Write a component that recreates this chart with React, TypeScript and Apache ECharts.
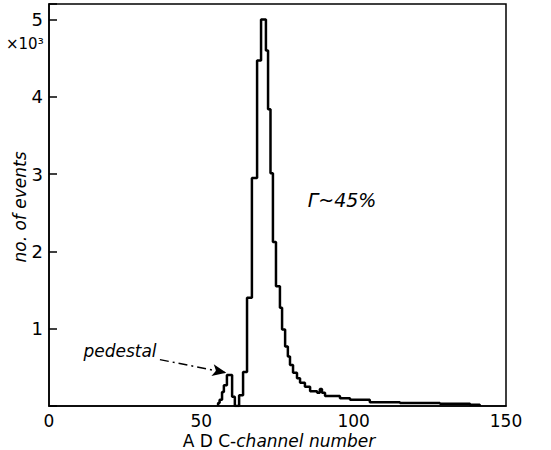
import React, { useEffect, useRef } from "react";
import * as echarts from "echarts";

// Histogram bin left edges (ADC channel) and bin contents (×10³ events)
const binEdges = [
  55.5, 56.0, 56.8, 57.4, 58.4, 60.1, 61.0, 62.4, 63.7, 65.0, 66.6, 68.3, 69.6,
  71.2, 71.9, 72.7, 73.5, 74.5, 75.8, 76.5, 77.5, 78.4, 79.1, 80.1, 81.4, 82.4,
  84.0, 85.7, 88.0, 88.9, 89.6, 90.6, 95.5, 98.8, 105.3, 115.2, 128.3, 138.2,
];
const binCounts = [
  0.04, 0.08, 0.18, 0.27, 0.4, 0.12, 0.0, 0.14, 0.44, 1.4, 2.95, 4.47, 5.0,
  4.6, 3.84, 3.01, 2.12, 1.55, 1.27, 0.99, 0.77, 0.64, 0.53, 0.43, 0.36, 0.3,
  0.25, 0.19, 0.17, 0.22, 0.17, 0.13, 0.1, 0.08, 0.05, 0.04, 0.03, 0.015,
];
const lastEdge = 141.4;

const xTicks = [0, 50, 100, 150];
const yTicks = [1, 2, 3, 4, 5];

// Arrow from "pedestal" label to the pedestal peak (channel, ×10³)
const arrowStart = [36.4, 0.6];
const arrowEnd = [58.2, 0.43];

export default function App() {
  const ref = useRef<HTMLDivElement>(null);
  useEffect(() => {
    document.body.style.margin = "0";
    if (!ref.current) return;
    const chart = echarts.init(ref.current, null, { renderer: "svg" });

    const data: number[][] = [[binEdges[0], 0]];
    binEdges.forEach((e, i) => data.push([e, binCounts[i]]));
    data.push([lastEdge, 0]);

    const font = "DejaVu Sans";
    chart.setOption({
      animation: false,
      backgroundColor: "#fff",
      grid: {
        left: 49,
        right: 45,
        top: 4,
        bottom: 44,
        show: true,
        borderColor: "#000",
        borderWidth: 1.5,
      },
      xAxis: {
        type: "value",
        min: 0,
        max: 150,
        interval: 50,
        axisLine: { show: true, lineStyle: { color: "#000", width: 1.5 } },
        axisTick: { show: false },
        splitLine: { show: false },
        axisLabel: {
          color: "#000",
          fontSize: 17,
          fontFamily: font,
          margin: 6,
          formatter: (v: number) => (xTicks.includes(v) ? String(v) : ""),
        },
      },
      yAxis: {
        type: "value",
        min: 0,
        max: 5.2,
        interval: 1,
        axisLine: { show: true, lineStyle: { color: "#000", width: 1.5 } },
        axisTick: {
          show: true,
          inside: true,
          length: 8,
          lineStyle: { color: "#000", width: 1.5 },
        },
        splitLine: { show: false },
        axisLabel: {
          color: "#000",
          fontSize: 18,
          fontFamily: font,
          margin: 6,
          formatter: (v: number) => (yTicks.includes(v) ? String(v) : ""),
        },
      },
      series: [
        {
          type: "line",
          step: "end",
          data,
          symbol: "none",
          lineStyle: { color: "#000", width: 2.5 },
          markLine: {
            silent: true,
            symbol: ["none", "arrow"],
            symbolSize: [9, 14],
            label: { show: false },
            lineStyle: { color: "#000", width: 1.5, type: [9, 4, 2, 4] },
            data: [[{ coord: arrowStart }, { coord: arrowEnd }]],
          },
        },
      ],
      graphic: [
        {
          type: "text",
          left: 6,
          top: 36,
          style: {
            text: "×10³",
            fontSize: 15,
            fontFamily: font,
            fill: "#000",
          },
        },
        {
          type: "text",
          x: 20,
          y: 207,
          rotation: Math.PI / 2,
          style: {
            text: "no. of events",
            fontSize: 17,
            fontStyle: "italic",
            fontFamily: font,
            fill: "#000",
            align: "center",
            verticalAlign: "middle",
          },
        },
        {
          type: "text",
          x: 279,
          y: 441,
          style: {
            text: "{u|A D C-}{i|channel number}",
            fontFamily: font,
            fill: "#000",
            align: "center",
            verticalAlign: "middle",
            rich: {
              u: { fontSize: 17, fontFamily: font, fill: "#000" },
              i: {
                fontSize: 17,
                fontFamily: font,
                fontStyle: "italic",
                fill: "#000",
              },
            },
          },
        },
        {
          type: "text",
          x: 120,
          y: 351,
          style: {
            text: "pedestal",
            fontSize: 17,
            fontStyle: "italic",
            fontFamily: font,
            fill: "#000",
            align: "center",
            verticalAlign: "middle",
          },
        },
        {
          type: "text",
          x: 342,
          y: 200,
          style: {
            text: "Γ~45%",
            fontSize: 19,
            fontStyle: "italic",
            fontFamily: font,
            fill: "#000",
            align: "center",
            verticalAlign: "middle",
          },
        },
      ],
    });
    return () => chart.dispose();
  }, []);
  return <div ref={ref} style={{ width: 551, height: 450 }} />;
}
